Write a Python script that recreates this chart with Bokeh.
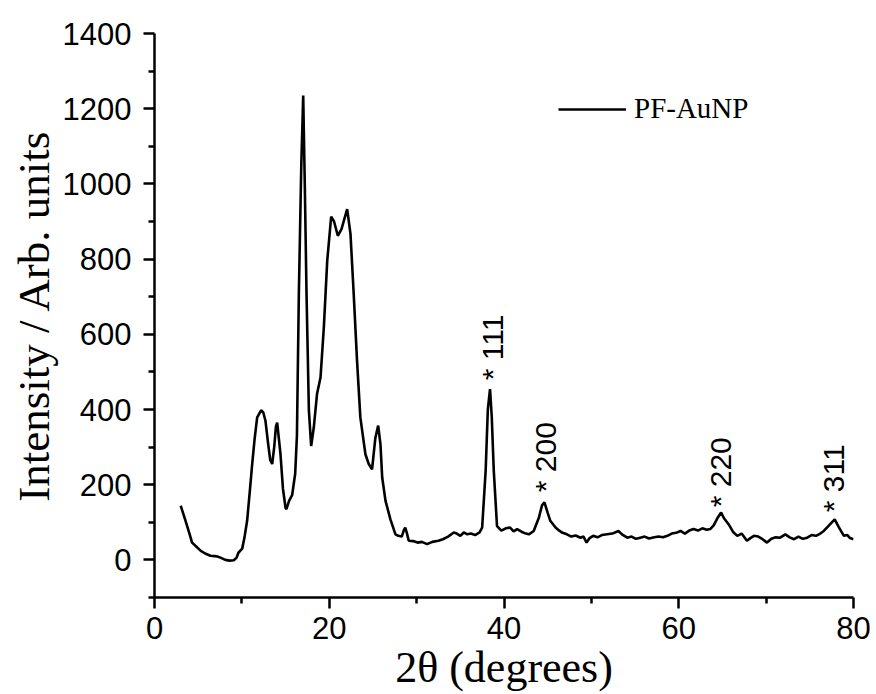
import math
from bokeh.plotting import figure
from bokeh.models import Range1d, FixedTicker, Legend, LegendItem
from bokeh.core.properties import value
from bokeh.embed import file_html
from bokeh.resources import INLINE

# ---- data ----
two_theta = [3.0, 3.5, 4.0, 4.3, 4.8, 5.3, 5.8, 6.4, 6.9, 7.2, 7.55, 8.1, 8.6, 9.08, 9.4, 9.6,
             10.04, 10.3, 10.6, 10.9, 11.18, 11.45, 11.75, 12.2, 12.45, 12.7, 13.0, 13.25, 13.47,
             13.7, 13.9, 14.04, 14.2, 14.42, 14.7, 15.0, 15.1, 15.4, 15.75, 16.1, 16.3, 16.52,
             16.8, 17.02, 17.2, 17.4, 17.67, 17.93, 18.23, 18.6, 19.0, 19.38, 19.77, 20.22,
             20.55, 20.98, 21.4, 22.05, 22.43, 22.8, 23.18, 23.56, 24.14, 24.52, 24.9, 25.28,
             25.6, 25.86, 26.06, 26.44, 27.0, 27.58, 27.9, 28.3, 28.55, 28.7, 28.9, 29.1, 29.6,
             30.1, 30.6, 31.2, 31.8, 32.5, 33.0, 33.6, 34.25, 34.6, 35.0, 35.4, 35.8, 36.2,
             36.7, 37.2, 37.5, 37.9, 38.15, 38.4, 38.6, 38.83, 39.2, 39.7, 40.2, 40.7, 41.1,
             41.5, 42.0, 42.5, 42.85, 43.4, 44.0, 44.35, 44.63, 45.0, 45.3, 45.9, 46.2, 46.7,
             47.2, 47.7, 48.2, 48.75, 49.1, 49.45, 49.8, 50.2, 50.7, 51.2, 51.8, 52.4, 53.1,
             53.5, 54.1, 54.6, 55.1, 55.6, 56.1, 56.6, 57.2, 57.7, 58.2, 58.7, 59.2, 59.7,
             60.2, 60.7, 61.2, 61.7, 62.2, 62.7, 63.2, 63.6, 64.0, 64.4, 64.85, 65.2, 65.7,
             66.2, 66.7, 67.2, 67.8, 68.2, 68.6, 69.1, 69.6, 70.1, 70.6, 71.1, 71.6, 72.2,
             72.7, 73.2, 73.7, 74.2, 74.7, 75.2, 75.7, 76.2, 76.6, 77.2, 77.85, 78.3, 78.9,
             79.3, 79.6, 80.0]
intensity = [144, 108, 70, 46, 35, 24, 17, 11, 10, 9, 6, 0, -2, -1, 6, 19,
             30, 60, 104, 180, 255, 320, 379, 398, 392, 370, 310, 265, 255,
             300, 355, 365, 330, 281, 190, 138, 135, 157, 172, 229, 330, 707,
             1050, 1235, 1000, 707, 397, 303, 352, 441, 485, 618, 796, 913,
             900, 862, 880, 933, 867, 707, 530, 379, 281, 255, 241, 325,
             357, 308, 219, 157, 108, 68, 64, 62, 80, 86, 70, 51, 50,
             46, 48, 42, 48, 51, 55, 62, 73, 70, 64, 73, 68, 70,
             66, 73, 86, 237, 400, 454, 380, 237, 90, 78, 84, 86, 76,
             82, 75, 70, 68, 77, 113, 145, 153, 125, 104, 86, 80, 72,
             68, 62, 65, 59, 62, 46, 58, 64, 60, 66, 68, 70, 77,
             68, 59, 62, 56, 59, 62, 57, 60, 62, 60, 64, 70, 72,
             77, 70, 78, 82, 78, 84, 80, 82, 92, 110, 126, 110, 95,
             75, 64, 70, 51, 58, 64, 62, 55, 46, 56, 60, 59, 68,
             60, 55, 62, 56, 59, 66, 64, 70, 77, 92, 108, 88, 64,
             66, 58, 55]

peak_labels = ["* 111", "* 200", "* 220", "* 311"]
peak_label_x = [38.65, 44.75, 64.8, 77.75]
peak_label_y = [478, 180, 140, 127]

x_major = [0, 20, 40, 60, 80]
x_minor = [10, 30, 50, 70]
y_major = [0, 200, 400, 600, 800, 1000, 1200, 1400]
y_minor = [-100, 100, 300, 500, 700, 900, 1100, 1300]

series_name = "PF-AuNP"
x_title = "2θ (degrees)"
y_title = "Intensity / Arb. units"

# ---- figure ----
p = figure(width=872, height=694, output_backend="svg", toolbar_location=None,
           x_range=Range1d(0, 80), y_range=Range1d(-100, 1400),
           min_border_left=154, min_border_right=19, min_border_top=33, min_border_bottom=97)
p.outline_line_color = None
p.xgrid.grid_line_color = None
p.ygrid.grid_line_color = None
p.background_fill_color = "white"
p.border_fill_color = "white"

curve = p.line(two_theta, intensity, line_color="black", line_width=2.6)

p.text(x=peak_label_x, y=peak_label_y, text=peak_labels, angle=math.pi / 2,
       text_align="left", text_baseline="middle", text_font=value("Liberation Sans"),
       text_font_size="30px", text_color="black")

for ax, maj, mnr in ((p.xaxis[0], x_major, x_minor), (p.yaxis[0], y_major, y_minor)):
    ax.ticker = FixedTicker(ticks=maj, minor_ticks=mnr)
    ax.axis_line_width = 2.5
    ax.axis_line_color = "black"
    ax.major_tick_line_width = 2.5
    ax.minor_tick_line_width = 2.5
    ax.major_tick_in = 0
    ax.major_tick_out = 11
    ax.minor_tick_in = 0
    ax.minor_tick_out = 6
    ax.major_label_text_font = "Liberation Sans"
    ax.major_label_text_font_size = "31px"
    ax.major_label_text_color = "black"
    ax.axis_label_text_font = "Liberation Serif"
    ax.axis_label_text_font_style = "normal"
    ax.axis_label_text_color = "black"

p.xaxis.axis_label = x_title
p.yaxis.axis_label = y_title
p.xaxis.axis_label_text_font_size = "44px"
p.yaxis.axis_label_text_font_size = "45px"
p.xaxis.major_label_standoff = 8
p.yaxis.major_label_standoff = 12
p.xaxis.axis_label_standoff = 1
p.yaxis.axis_label_standoff = 1

legend = Legend(items=[LegendItem(label=series_name, renderers=[curve])],
                location=(404, 472), border_line_color=None, background_fill_alpha=0,
                padding=0, margin=0, glyph_width=68, label_standoff=8,
                label_text_font="Liberation Serif", label_text_font_size="29px",
                label_text_color="black")
p.add_layout(legend)

open("out.html", "w").write(file_html(p, INLINE))
